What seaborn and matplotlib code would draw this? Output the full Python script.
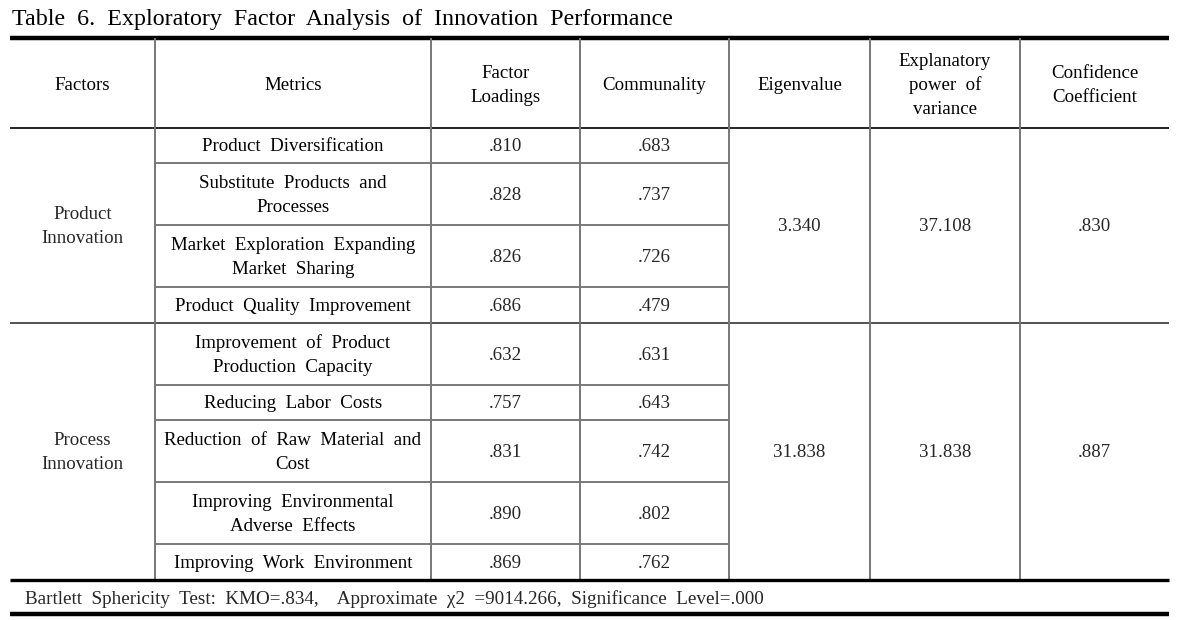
import matplotlib
matplotlib.use("Agg")
import matplotlib.pyplot as plt
import seaborn as sns
import pandas as pd

# ---- data ----
title = "Table  6.  Exploratory  Factor  Analysis  of  Innovation  Performance"
headers = ["Factors", "Metrics", "Factor\nLoadings", "Communality", "Eigenvalue",
           "Explanatory\npower  of\nvariance", "Confidence\nCoefficient"]
factors = ["Product\nInnovation", "Process\nInnovation"]
metrics = [
    ["Product  Diversification", "Substitute  Products  and\nProcesses",
     "Market  Exploration  Expanding\nMarket  Sharing", "Product  Quality  Improvement"],
    ["Improvement  of  Product\nProduction  Capacity", "Reducing  Labor  Costs",
     "Reduction  of  Raw  Material  and\nCost", "Improving  Environmental\nAdverse  Effects",
     "Improving  Work  Environment"],
]
loadings = [[".810", ".828", ".826", ".686"], [".632", ".757", ".831", ".890", ".869"]]
communality = [[".683", ".737", ".726", ".479"], [".631", ".643", ".742", ".802", ".762"]]
eigenvalue = ["3.340", "31.838"]
explanatory = ["37.108", "31.838"]
confidence = [".830", ".887"]
footer = "Bartlett  Sphericity  Test:  KMO=.834,    Approximate  χ2  =9014.266,  Significance  Level=.000"

rows = []
for g, f in enumerate(factors):
    for i, m in enumerate(metrics[g]):
        rows.append(dict(group=g, factor=f, metric=m, loading=loadings[g][i],
                         communality=communality[g][i]))
df = pd.DataFrame(rows)

# ---- layout ----
sns.set_theme(style="white")
plt.rcParams["font.family"] = ["Liberation Serif", "DejaVu Serif"]

W, H = 1189, 620
fig = plt.figure(figsize=(W / 100, H / 100), dpi=100)
ax = fig.add_axes([0, 0, 1, 1])
ax.set_xlim(0, W)
ax.set_ylim(H, 0)
ax.axis("off")

colx = [10, 155, 431, 580, 729, 870, 1020, 1169]
top, head_bot = 38, 127.5
single, double = 35.5, 62
fs = 13.6
ls = 1.5
dy = 1.5
grid_c = "#777777"

ax.text(12, 20, title, fontsize=17.3, va="center", ha="left", color="black")

ax.hlines(top, colx[0], colx[-1], color="black", lw=3.2)
ax.hlines(head_bot, colx[0], colx[-1], color="black", lw=1.2)
for j, h in enumerate(headers):
    ax.text((colx[j] + colx[j + 1]) / 2, (top + head_bot) / 2 + 1 + dy, h, fontsize=fs,
            ha="center", va="center", linespacing=ls, color="black")

y = head_bot
for g in range(len(factors)):
    sub = df[df.group == g]
    y0 = y
    for k, (_, r) in enumerate(sub.iterrows()):
        h = double if "\n" in r.metric else single
        yc = y + h / 2 + dy
        ax.text((colx[1] + colx[2]) / 2, yc, r.metric, fontsize=fs, ha="center", va="center",
                linespacing=ls, color="black")
        ax.text((colx[2] + colx[3]) / 2, yc, r.loading, fontsize=fs, ha="center", va="center")
        ax.text((colx[3] + colx[4]) / 2, yc, r.communality, fontsize=fs, ha="center", va="center")
        y += h
        if k < len(sub) - 1:
            ax.hlines(y, colx[1], colx[4], color="#555555", lw=1.1)
    yc = (y0 + y) / 2 + dy
    ax.text((colx[0] + colx[1]) / 2, yc, factors[g], fontsize=fs, ha="center", va="center",
            linespacing=ls)
    for j, vals in zip([4, 5, 6], [eigenvalue, explanatory, confidence]):
        ax.text((colx[j] + colx[j + 1]) / 2, yc, vals[g], fontsize=fs, ha="center", va="center")
    if g < len(factors) - 1:
        ax.hlines(y, colx[0], colx[-1], color="#333333", lw=1.2)

bottom = y
for x in colx[1:-1]:
    ax.vlines(x, top, bottom, color=grid_c, lw=1.4)
ax.hlines(bottom, colx[0], colx[-1], color="black", lw=2.4)
ax.text(25, 599, footer, fontsize=fs + 0.2, ha="left", va="center")
ax.hlines(614, colx[0], colx[-1], color="black", lw=3.2)

fig.savefig("out.png", dpi=100, facecolor="white")
